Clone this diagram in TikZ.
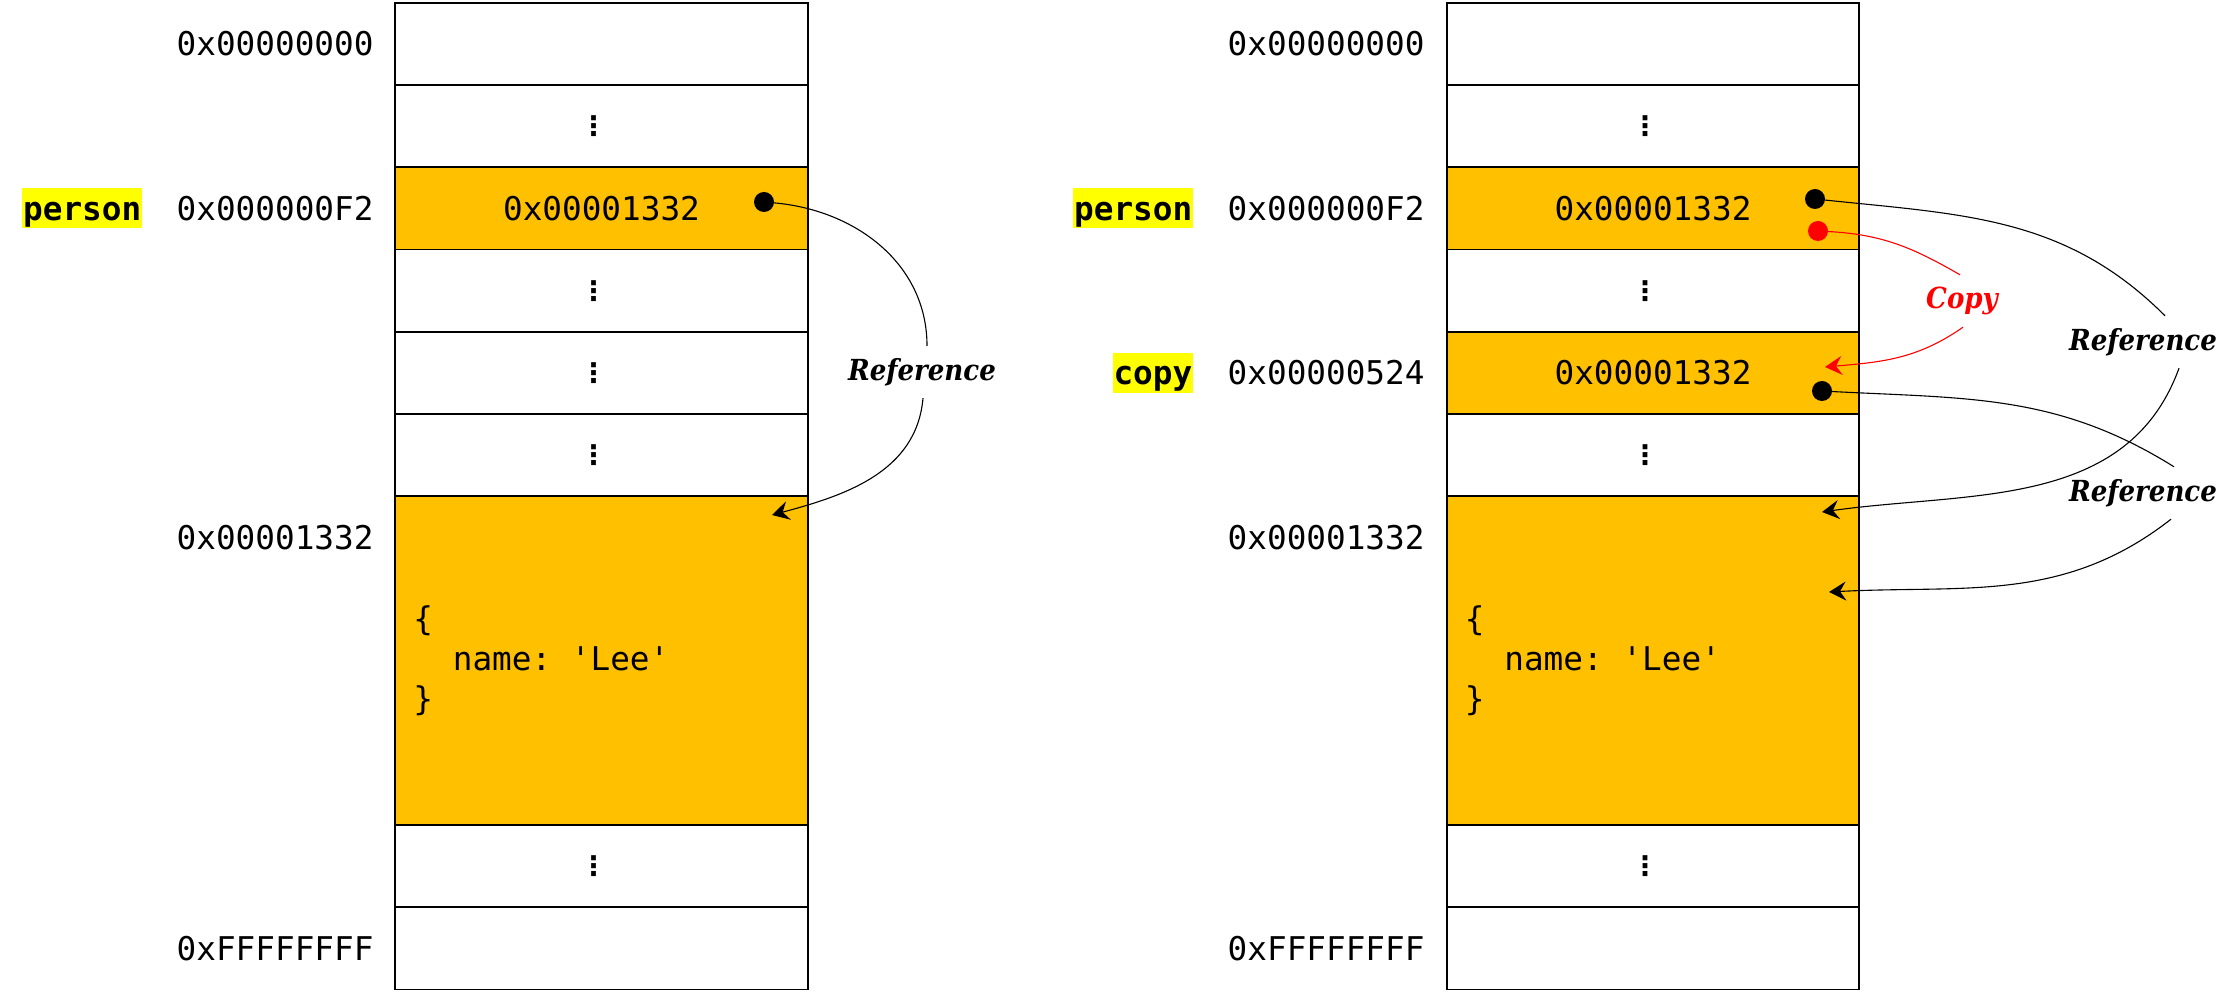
\documentclass[tikz,border=0pt]{standalone}
\usepackage{fontspec}
\setmonofont{DejaVu Sans Mono}
\newfontfamily\reffont{DejaVu Serif Condensed}
\newfontfamily\dotsfont{DejaVu Sans}
\usepackage{tikz}
\usetikzlibrary{arrows.meta}
\usetikzlibrary{positioning}

\definecolor{heapfill}{RGB}{255,192,0}
\definecolor{varmark}{RGB}{255,255,0}
\definecolor{copyred}{RGB}{255,0,0}

\newcommand{\celldots}{\hbox{{\fontsize{27}{27}\selectfont\dotsfont\bfseries ⋮}\kern16pt}}

\begin{document}
\begin{tikzpicture}[x=1pt,y=1pt,
    cell/.style={draw,line width=1.8pt,minimum width=412.5pt,minimum height=82.2pt,inner sep=0pt,outer sep=0pt,font=\fontsize{32.7}{40}\selectfont\ttfamily},
    heap/.style={cell,fill=heapfill},
    addr/.style={inner sep=0pt,font=\fontsize{32.7}{40}\selectfont\ttfamily},
    obj/.style={addr,anchor=west,align=left},
    var/.style={fill=varmark,inner xsep=1pt,inner ysep=0pt,text height=32pt,text depth=8pt,font=\fontsize{32.7}{40}\selectfont\ttfamily\bfseries},
    pin/.style={circle,fill=black,inner sep=0pt,minimum size=20pt},
    ref/.style={inner sep=0pt,minimum height=52pt,font=\fontsize{29}{36}\selectfont\reffont\bfseries\itshape},
    link/.style={line width=1.1pt,>={Stealth[length=17pt,width=19pt,inset=6pt]}}]

  \path [use as bounding box,fill=white] (0,0) rectangle (2237,991);

  % left: one variable
  \node [cell] (A0) at (601.5,946.9) {};
  \node [cell,below=0pt of A0] (A1) {\celldots};
  \node [heap,below=0pt of A1] (A2) {0x00001332};
  \node [cell,below=0pt of A2] (A3) {\celldots};
  \node [cell,below=0pt of A3] (A4) {\celldots};
  \node [cell,below=0pt of A4] (A5) {\celldots};
  \node [heap,below=0pt of A5,minimum height=328.8pt] (A6) {};
  \node [cell,below=0pt of A6] (A7) {\celldots};
  \node [cell,below=0pt of A7] (A8) {};

  \node [obj] (Aobj) at ([xshift=18pt]A6.west) {\{\\\phantom{xx}name: 'Lee'\\\}};

  \node [addr,left=21.5pt of A0] (Aaddr_0) {0x00000000};
  \node [addr,left=21.5pt of A2] (Aaddr_2) {0x000000F2};
  \node [addr,left=21.5pt of A6.north west,yshift=-41.1pt] (Aaddr_6) {0x00001332};
  \node [addr,left=21.5pt of A8] (Aaddr_8) {0xFFFFFFFF};
  \node [var,base left=34pt of Aaddr_2] (Aperson) {person};

  \node [pin] (Apin) at (764,789) {};
  \node [ref] (Aref) at (922,619) {Reference};
  \coordinate (Atip) at (772,476);

  \path [draw,link]
    (Apin) edge [out=-5,in=90] ([xshift=5pt]Aref.north)
    ([xshift=1pt]Aref.south) edge [->,out=-95,in=15] (Atip);

  % right: copied variable
  \node [cell] (B0) at (1653,946.9) {};
  \node [cell,below=0pt of B0] (B1) {\celldots};
  \node [heap,below=0pt of B1] (B2) {0x00001332};
  \node [cell,below=0pt of B2] (B3) {\celldots};
  \node [heap,below=0pt of B3] (B4) {0x00001332};
  \node [cell,below=0pt of B4] (B5) {\celldots};
  \node [heap,below=0pt of B5,minimum height=328.8pt] (B6) {};
  \node [cell,below=0pt of B6] (B7) {\celldots};
  \node [cell,below=0pt of B7] (B8) {};

  \node [obj] (Bobj) at ([xshift=18pt]B6.west) {\{\\\phantom{xx}name: 'Lee'\\\}};

  \node [addr,left=22pt of B0] (Baddr_0) {0x00000000};
  \node [addr,left=22pt of B2] (Baddr_2) {0x000000F2};
  \node [addr,left=22pt of B4] (Baddr_4) {0x00000524};
  \node [addr,left=22pt of B6.north west,yshift=-41.1pt] (Baddr_6) {0x00001332};
  \node [addr,left=22pt of B8] (Baddr_8) {0xFFFFFFFF};
  \node [var,base left=34pt of Baddr_2] (Bperson) {person};
  \node [var,base left=34pt of Baddr_4] (Bcopyvar) {copy};

  \node [pin] (Bpin_1) at (1815,792) {};
  \node [pin,fill=copyred] (Bpin_red) at (1818,760) {};
  \node [pin] (Bpin_2) at (1822,600) {};
  \node [ref,text=copyred] (Bcopy) at (1962,690) {Copy};
  \node [ref] (Bref_1) at (2143,649) {Reference};
  \node [ref] (Bref_2) at (2143,498) {Reference};
  \coordinate (Btip_copy) at (1825,624);
  \coordinate (Btip_1) at (1822,479);
  \coordinate (Btip_2) at (1829,399);

  \path [draw,link]
    (Bpin_1) edge [out=-6,in=135] ([xshift=22pt]Bref_1.north)
    ([xshift=36pt]Bref_1.south) edge [->,out=-110,in=8] (Btip_1)
    (Bpin_2) edge [out=-3,in=148] ([xshift=31pt]Bref_2.north)
    ([xshift=28pt]Bref_2.south) edge [->,out=-142,in=3] (Btip_2);

  \path [draw,link,copyred]
    (Bpin_red) edge [out=-3,in=150] ([xshift=-2pt]Bcopy.north)
    ([xshift=1pt]Bcopy.south) edge [->,out=-145,in=5] (Btip_copy);

\end{tikzpicture}
\end{document}
